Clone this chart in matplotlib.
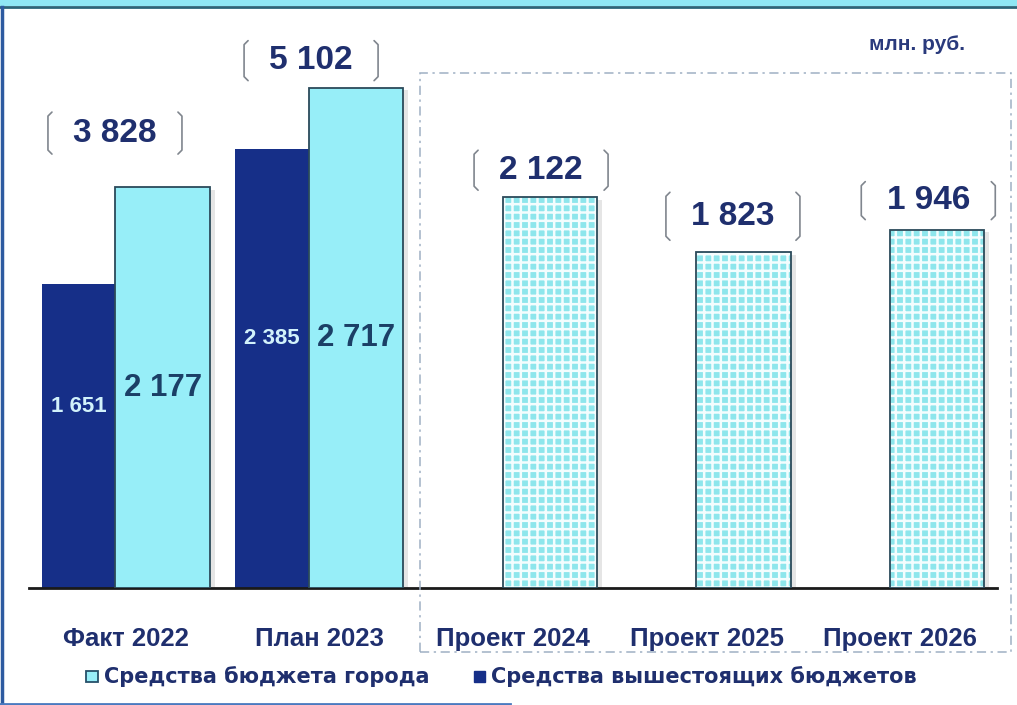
import matplotlib
matplotlib.use("Agg")
import matplotlib.pyplot as plt
from matplotlib.patches import Rectangle
from matplotlib.lines import Line2D
import numpy as np

categories = ["Факт 2022", "План 2023", "Проект 2024", "Проект 2025", "Проект 2026"]
city_budget = [2177, 2717, 2122, 1823, 1946]          # Средства бюджета города
upper_budget = [1651, 2385, 0, 0, 0]                  # Средства вышестоящих бюджетов
series_names = ["Средства бюджета города", "Средства вышестоящих бюджетов"]
unit_label = "млн. руб."

W, H = 1017, 705
DARK = "#162f88"
LIGHT = "#97eef8"
EDGE = "#2b4a5a"
TXT = "#1f2f6e"
FONT = ["Liberation Sans", "DejaVu Sans"]
plt.rcParams["font.family"] = FONT
plt.rcParams["hatch.linewidth"] = 1.8

fig = plt.figure(figsize=(W / 100, H / 100), dpi=100)
fig.patch.set_facecolor("white")

# axes placement in pixels
ax_l, ax_r, ax_b, ax_t = 29, 997, 588, 30
ax = fig.add_axes([ax_l / W, 1 - ax_b / H, (ax_r - ax_l) / W, (ax_b - ax_t) / H])
ax.set_xlim(-0.5, len(categories) - 0.5)
ax.set_ylim(0, 3030)
ax.set_facecolor("none")
for s in ["top", "right", "left"]:
    ax.spines[s].set_visible(False)
ax.spines["bottom"].set_color("#1a1a1a")
ax.spines["bottom"].set_linewidth(2)
ax.set_yticks([])
x = np.arange(len(categories))
ax.set_xticks(x)
ax.set_xticklabels(categories, fontsize=18.5, fontweight="bold", color=TXT)
ax.tick_params(axis="x", length=0, pad=28)

off, bw = 0.19, 0.487

# shadows
sh = 5 / 193.6
for i in range(len(categories)):
    ax.bar(x[i] + off + sh, city_budget[i] - 15, width=bw, bottom=0, color="#000000",
           alpha=0.10, zorder=1, linewidth=0)

# upper-budget bars (behind)
for i in range(len(categories)):
    if upper_budget[i] > 0:
        ax.bar(x[i] - off, upper_budget[i], width=bw, color=DARK, zorder=2, linewidth=0)

# city bars
for i in range(len(categories)):
    if upper_budget[i] > 0:
        ax.bar(x[i] + off, city_budget[i], width=bw, color=LIGHT, edgecolor=EDGE,
               linewidth=1.3, zorder=3)
    else:
        ax.bar(x[i] + off, city_budget[i], width=bw, color="#8ee6ec", edgecolor="#f4fdfe",
               hatch="++", linewidth=0, zorder=3)
        ax.bar(x[i] + off, city_budget[i], width=bw, color="none", edgecolor=EDGE,
               linewidth=1.3, zorder=4)

# inside labels
fmt = lambda v: f"{v:,}".replace(",", " ")
for i in range(len(categories)):
    if upper_budget[i] > 0:
        xv = x[i] - off - bw / 2 + off
        ax.text(xv, upper_budget[i] / 2 + 160, fmt(upper_budget[i]), ha="center", va="center",
                fontsize=16, fontweight="bold", color="#d2f2fb", zorder=6)
        ax.text(x[i] + off, city_budget[i] / 2, fmt(city_budget[i]), ha="center", va="center",
                fontsize=22.5, fontweight="bold", color="#1b3f66", zorder=6)

# totals with brackets
tot_dx = [-0.056, -0.043, 0.145, 0.136, 0.145]
tot_dy_px = [54, 27, 27, 36, 29]
br_h = [21, 20, 20, 24, 19]
for i in range(len(categories)):
    total = city_budget[i] + upper_budget[i]
    top = max(city_budget[i], upper_budget[i])
    px, py = ax.transData.transform((x[i] + tot_dx[i], top))
    py = py + tot_dy_px[i]
    ax.text(px / W, py / H, fmt(total), transform=fig.transFigure, ha="center", va="center",
            fontsize=24, fontweight="bold", color=TXT, zorder=7)
    for sgn in (-1, 1):
        bx = px + sgn * 67
        hh = br_h[i]
        xs = [bx - sgn * 4, bx, bx, bx - sgn * 4]
        ys = [py + hh, py + hh - 4, py - hh + 4, py - hh]
        fig.add_artist(Line2D(np.array(xs) / W, np.array(ys) / H, transform=fig.transFigure,
                              color="#80868e", lw=1.2, solid_capstyle="round"))

# dashed box around projects
fig.add_artist(Rectangle((420 / W, 1 - 652 / H), (1011 - 420) / W, (652 - 73) / H,
                         transform=fig.transFigure, fill=False, edgecolor="#9fb0c4",
                         linestyle=(0, (6, 3, 1.5, 3)), lw=1.1))

# unit label
fig.text(917 / W, 1 - 45 / H, unit_label, ha="center", va="center", fontsize=15,
         fontweight="bold", color="#2a3a7c")

# legend
leg_y = 1 - 677 / H
LFONT = ["DejaVu Sans"]
fig.add_artist(Rectangle((86 / W, leg_y - 5 / H), 12 / W, 11 / H, transform=fig.transFigure,
                         facecolor=LIGHT, edgecolor="#26506a", lw=1.3))
fig.text(104 / W, leg_y, series_names[0], ha="left", va="center", fontsize=15,
         fontweight="bold", color=TXT, family=LFONT)
fig.add_artist(Rectangle((474 / W, leg_y - 5 / H), 11 / W, 11 / H, transform=fig.transFigure,
                         facecolor=DARK, edgecolor=DARK, lw=1))
fig.text(491 / W, leg_y, series_names[1], ha="left", va="center", fontsize=15,
         fontweight="bold", color=TXT, family=LFONT)

# frame decorations
fig.add_artist(Rectangle((0, 1 - 6 / H), 1, 6 / H, transform=fig.transFigure,
                         facecolor="#8fe6f4", edgecolor="none"))
fig.add_artist(Line2D([0, 1], [1 - 7 / H, 1 - 7 / H], transform=fig.transFigure,
                      color="#2b6478", lw=2))
fig.add_artist(Line2D([1.5 / W, 1.5 / W], [0, 1 - 7 / H], transform=fig.transFigure,
                      color="#2d5aa0", lw=2.5))
fig.add_artist(Line2D([0, 510 / W], [1.5 / H, 1.5 / H], transform=fig.transFigure,
                      color="#4a7ac0", lw=2))

fig.savefig("out.png", dpi=100)
